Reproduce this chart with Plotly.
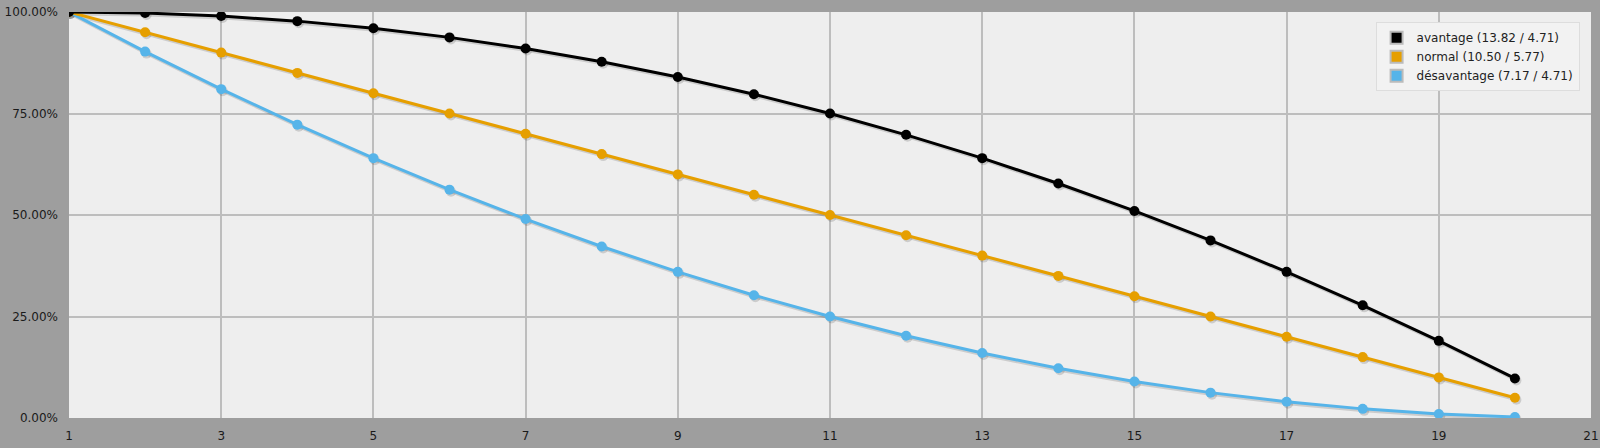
import plotly.graph_objects as go

faces = list(range(1, 21))
avantage = [1.0, 0.9975, 0.99, 0.9775, 0.96, 0.9375, 0.91, 0.8775, 0.84, 0.7975,
            0.75, 0.6975, 0.64, 0.5775, 0.51, 0.4375, 0.36, 0.2775, 0.19, 0.0975]
normal = [1.0, 0.95, 0.90, 0.85, 0.80, 0.75, 0.70, 0.65, 0.60, 0.55,
          0.50, 0.45, 0.40, 0.35, 0.30, 0.25, 0.20, 0.15, 0.10, 0.05]
desavantage = [1.0, 0.9025, 0.81, 0.7225, 0.64, 0.5625, 0.49, 0.4225, 0.36, 0.3025,
               0.25, 0.2025, 0.16, 0.1225, 0.09, 0.0625, 0.04, 0.0225, 0.01, 0.0025]
names = ["avantage (13.82 / 4.71)", "normal (10.50 / 5.77)", "désavantage (7.17 / 4.71)"]
colors = ["#000000", "#e69f00", "#56b4e9"]
series = [avantage, normal, desavantage]
x_ticks = list(range(1, 22, 2))
y_ticks = [0, 0.25, 0.5, 0.75, 1.0]

W, H = 1600, 448
ML, MR, MT, MB = 69, 9, 12, 30
pw, ph = W - ML - MR, H - MT - MB
sx = 20 / pw * 1.5   # shadow offset, x units
sy = 1 / ph * 2.0    # shadow offset, y units

fig = go.Figure()
# shadows on first overlay
for col, vals in reversed(list(zip(colors, series))):
    fig.add_trace(go.Scatter(
        x=faces, y=vals, mode="lines+markers", xaxis="x2", yaxis="y2",
        line=dict(color="rgba(0,0,0,0.14)", width=3),
        marker=dict(color="rgba(0,0,0,0.14)", size=10),
        showlegend=False, hoverinfo="skip"))
# main series on second overlay (drawn on top)
for name, col, vals in reversed(list(zip(names, colors, series))):
    fig.add_trace(go.Scatter(
        x=faces, y=vals, mode="lines+markers", name=name, xaxis="x3", yaxis="y3",
        line=dict(color=col, width=3), marker=dict(color=col, size=10),
        showlegend=False, hovertemplate="%{x}: %{y:.2%}<extra></extra>"))
for name, col in zip(names, colors):
    fig.add_trace(go.Scatter(
        x=[None], y=[None], mode="markers", name=name, xaxis="x3", yaxis="y3",
        marker=dict(color=col, symbol="square", size=13, line=dict(color="#bbbbbb", width=1))))
# invisible anchor trace for base axes
fig.add_trace(go.Scatter(x=[None], y=[None], showlegend=False, hoverinfo="skip"))

fig.update_layout(
    width=W, height=H,
    margin=dict(l=ML, r=MR, t=MT, b=MB),
    paper_bgcolor="#9e9e9e", plot_bgcolor="#eeeeee",
    font=dict(family="Verdana, DejaVu Sans, sans-serif", size=12, color="#1a1a1a"),
    legend=dict(x=0.9925, y=0.975, xanchor="right", yanchor="top",
                bgcolor="#f2f2f2", bordercolor="#dddddd", borderwidth=1,
                font=dict(size=12, color="#222222"), tracegroupgap=0,
                itemsizing="constant", itemwidth=30),
    xaxis=dict(range=[1, 21], tickvals=x_ticks, showgrid=True, gridcolor="#bdbdbd",
               gridwidth=2, zeroline=False, showline=False, ticks="", automargin=False,
               ticklabelstandoff=9),
    yaxis=dict(range=[0, 1], tickvals=y_ticks, tickformat=".2%", showgrid=True,
               gridcolor="#bdbdbd", gridwidth=2, zeroline=False, showline=False,
               ticks="", ticklabelstandoff=10, automargin=False),
    xaxis2=dict(range=[1 - sx, 21 - sx], overlaying="x", visible=False, showgrid=False),
    yaxis2=dict(range=[0 + sy, 1 + sy], overlaying="y", visible=False, showgrid=False),
    xaxis3=dict(range=[1, 21], overlaying="x", visible=False, showgrid=False),
    yaxis3=dict(range=[0, 1], overlaying="y", visible=False, showgrid=False),
)
fig.write_html("out.html", config={"displayModeBar": False},
               post_script="document.body.style.margin='0';document.body.style.background='#9e9e9e';")
